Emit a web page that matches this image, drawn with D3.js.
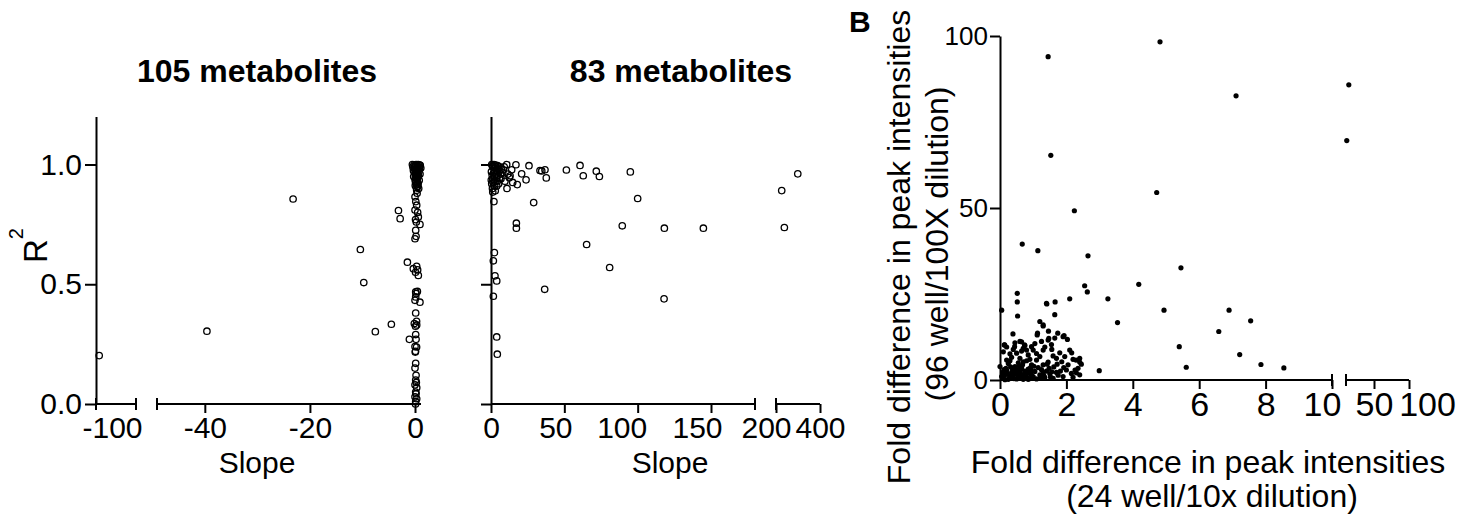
<!DOCTYPE html>
<html>
<head>
<meta charset="utf-8">
<script src="https://cdn.jsdelivr.net/npm/d3@7"></script>
<style>
  body { margin: 0; background: #fff; }
  svg { font-family: "Liberation Sans", Arial, Helvetica, sans-serif; background: #fff; }
  .axis path, .axis line, .cap { stroke: #000; stroke-width: 2; fill: none; }
  .axis text { fill: #000; }
</style>
</head>
<body>
<svg width="1465" height="518"></svg>
<script>
var svg = d3.select("svg");

// ---- data ----
// panel A, left: 105 metabolites, negative slopes
var negPoints = [
  [-101.6,0.202],[-39.6,0.304],[-23.2,0.856],[-10.4,0.645],[-9.75,0.507],[-7.55,0.302],
  [-4.5,0.333],[-3.15,0.808],[-2.83,0.774],[-1.45,0.592],[-1.07,0.27],
  [0.2,1.0],[0.6,1.0],[-0.2,0.998],[0.9,0.997],[0.4,0.995],[0.1,0.993],[0.75,0.99],[-0.1,0.99],
  [0.5,0.988],[0.3,0.985],[0.85,0.982],[0.0,0.98],[0.6,0.978],[0.2,0.975],[0.45,0.972],[-0.15,0.97],
  [0.7,0.968],[0.35,0.965],[0.1,0.962],[0.55,0.96],[0.25,0.957],[0.05,0.955],[0.65,0.952],[0.4,0.95],
  [0.15,0.947],[0.5,0.944],[0.3,0.94],[0.0,0.937],[0.8,0.934],[0.2,0.93],[0.45,0.927],[0.1,0.924],
  [0.6,0.92],[0.35,0.916],[0.05,0.912],[0.5,0.908],[0.25,0.904],[0.7,0.9],[1.0,0.996],[-0.5,1.0],
  [-0.4,0.99],[1.1,0.985],[-0.3,0.975],[0.95,0.96],[-0.25,0.95],
  [0.32,0.893],[0,0.865],[0.32,0.83],[0,0.81],[0.63,0.781],[0.1,0.77],[0.94,0.75],[0.13,0.725],
  [0,0.69],[0.2,0.70],[0.32,0.575],[-0.32,0.565],[0.5,0.56],[0.63,0.537],[0.1,0.55],[0.13,0.468],
  [0.2,0.461],[0.13,0.447],[0,0.433],[0.94,0.425],[0.13,0.38],[-0.13,0.336],[0.32,0.33],[0.1,0.325],
  [0.13,0.29],[0.2,0.27],[0,0.24],[0.3,0.238],[0.1,0.22],[0.05,0.217],[0.13,0.17],[0,0.15],
  [0.13,0.1],[0,0.08],[0.32,0.068],[0.13,0.05],[0.2,0.043],[0,0.03],[0.32,0.022],[0.13,0.01],[0.1,0.0],
  [0.4,0.88],[0.15,0.845],[0.5,0.8],[0.25,0.76],[0.45,0.47],[0.3,0.345],[0.2,0.12],[0.25,0.09]
];
// panel A, right: 83 metabolites, positive slopes
var posPoints = [
  [299,0.961],[226,0.891],[238,0.737],[144.8,0.734],[118.2,0.734],[118,0.439],[100,0.858],[95,0.969],
  [89.5,0.744],[80.9,0.57],[65.2,0.666],[73.9,0.95],[71.8,0.972],[62.9,0.953],[60.7,0.996],[51.4,0.977],
  [37.7,0.944],[36.8,0.978],[33.4,0.975],[34.6,0.973],[36.6,0.479],[29.1,0.841],[25.9,0.995],[23.9,0.936],
  [20.9,0.961],[17.9,0.916],[17.3,0.755],[17.3,0.734],[17,0.999],[14.8,0.925],[13,0.953],[14.1,0.978],
  [10.7,1.0],[10.9,0.9],[8.4,0.978],[6.8,0.941],[4.3,0.93],[3.9,0.91],[2,0.845],[2.3,0.632],[1.6,0.598],
  [2.7,0.535],[3.9,0.514],[1.6,0.45],[3.9,0.28],[4.3,0.208],
  [0.5,1.0],[1,0.995],[1.5,0.99],[2,1.0],[2.5,0.985],[3,0.998],[3.5,0.99],[4,0.975],[4.5,0.995],[5,0.985],
  [5.5,0.97],[6,0.99],[6.5,0.96],[7,0.98],[0.3,0.97],[0.8,0.955],[1.2,0.94],[1.8,0.965],[2.2,0.95],
  [2.8,0.93],[3.2,0.96],[3.8,0.945],[4.8,0.955],[5.8,0.94],[0.5,0.92],[1.5,0.925],[2.5,0.91],[0.2,0.935],
  [1.0,0.9],[8,0.965],[9,0.99],[11.5,0.96],[12.5,0.945],[9.5,0.93],[5.2,0.92],[2.9,0.89],[1.2,0.885]
];
// panel B: fold differences (24 well/10x vs 96 well/100X)
var foldPoints = [
  [4.82,98.3],[1.45,94.0],[7.11,82.6],[14,85.8],[11.1,69.6],[1.53,65.3],[4.72,54.5],[2.24,49.2],
  [0.67,39.5],[1.14,37.6],[2.65,36.1],[5.45,32.6],[4.18,27.8],[2.55,27.4],[2.63,25.6],[0.52,25.2],
  [0.52,22.7],[2.1,23.6],[3.25,23.6],[1.66,22.7],[1.41,22.1],[0.05,20.3],[4.94,20.3],[6.9,20.3],
  [0.53,18.6],[1.65,19.0],[3.54,16.7],[7.55,17.2],[6.59,14.1],[5.4,9.7],[7.22,7.4],[7.86,4.5],
  [8.55,3.5],[5.61,3.7],[2.99,2.7],[0.39,13.4],
  [1.2,17],[1.3,15.7],[1.46,14.2],[1.13,13.6],[1.74,13.6],[1.93,12.9],[2.03,11.8],[1.45,11.6],
  [0.13,10.2],[0.45,10.8],[0.65,11.1],[0.7,9.2],[0.8,8.7],[1.0,8.7],[0.1,8.2],[0.3,7.6],[1.1,7.7],
  [1.3,8.7],[1.56,8.9],[1.8,7.9],[2.1,8.7],[2.16,7.9],[2.4,6.3],[2.29,5.8],[1.7,6.3],[1.86,5.3],
  [1.1,5.8],[0.85,7.3],[0.6,6.3],[0.25,4.8],[0,3.9],[0.45,3.9],[0.7,5.3],[0.95,4.4],[1.3,4.4],
  [1.48,3.4],[1.56,2.4],[2.0,2.9],[2.26,2.9],[2.3,2.1],[1.3,2.0],[1.5,1.8],[1.0,1.0],[1.75,1.4],
  [0.1,0.5],[0.15,1.5],[0.2,2.8],[0.25,0.2],[0.3,1.2],[0.35,2.2],[0.4,0.8],[0.45,1.8],[0.5,3.0],
  [0.5,0.3],[0.55,1.3],[0.6,2.4],[0.6,0.6],[0.65,3.5],[0.7,1.6],[0.7,0.2],[0.75,2.6],[0.8,1.0],
  [0.85,3.2],[0.9,0.4],[0.9,2.0],[0.95,1.4],[0.05,1.0],[0.08,2.2],[0.18,3.4],[0.28,0.6],[0.38,3.1],
  [0.48,2.3],[0.58,4.1],[0.68,4.4],[0.78,0.7],[0.88,2.8],[1.05,2.5],[1.1,0.3],[1.2,1.5],[1.25,3.0],
  [1.35,0.8],[1.4,2.6],[1.6,0.5],[1.7,2.2],[1.9,1.0],[2.2,0.8],[2.4,1.5],[0.3,5.6],[0.55,5.0],
  [0.9,6.0],[1.2,6.8],[0.4,8.9],[0.2,9.6],[0.75,10.0],[1.55,10.3],[1.65,12.2],[1.4,22.3],[1.3,16.0],
  [1.12,13.1],[1.47,12.1],[1.9,12.6],[0.14,10.2],[0.44,9.7],[0.74,10.2],[0.6,11.2],
  [0.12,3.0],[0.22,1.8],[0.32,3.8],[0.42,0.4],[0.52,1.9],[0.62,3.0],[0.72,0.9],[0.82,2.2],[0.92,3.6],
  [0.15,0.1],[0.35,0.5],[0.55,0.8],[0.65,1.2],[0.75,1.9],[0.85,0.2],[0.95,2.6],[1.02,4.0],[1.15,3.6],
  [1.22,0.6],[1.32,1.3],[1.42,4.6],[1.52,0.9],[1.62,3.8],[1.72,4.6],[1.82,2.6],[1.92,3.6],[2.05,4.4],
  [2.15,1.9],[2.35,3.4],[2.45,4.6],[0.35,6.6],[0.5,7.8],[0.65,8.4],[0.95,9.7],[1.05,10.6],[1.25,11.2],
  [1.35,9.6],[1.6,7.0],[1.95,6.8],[2.2,6.0],[0.2,5.8],[0.8,5.6],[1.45,5.2],[2.4,5.2]
];

var r2Ticks = [0, 0.5, 1.0];
var negTicks1 = [-100], negTicks2 = [-40, -20, 0];
var posTicks1 = [0, 50, 100, 150], posTicks2 = [200, 400];
var foldXTicks1 = [0, 2, 4, 6, 8, 10], foldXTicks2 = [50, 100];
var foldYTicks = [0, 50, 100];

// ---- scales ----
var yR2 = d3.scaleLinear().domain([0, 1.2]).range([404, 116.6]);

var negX1 = d3.scaleLinear().domain([-102, -97]).range([96, 136]);
var negX2 = d3.scaleLinear().domain([-49.1, 1.14]).range([157, 421]);
var posX1 = d3.scaleLinear().domain([0, 180]).range([491, 755]);
var posX2 = d3.scaleLinear().domain([200, 400]).range([776, 820]);

var foldX1 = d3.scaleLinear().domain([0, 10]).range([1000, 1332]);
var foldX2 = d3.scaleLinear().domain([10, 100]).range([1346, 1409]);
var foldY = d3.scaleLinear().domain([0, 100]).range([380, 36]);

function pick(s1, s2) {
    return function (v) { return v <= s1.domain()[1] ? s1(v) : s2(v); };
}
var negX = pick(negX1, negX2),
    posX = pick(posX1, posX2),
    foldX = pick(foldX1, foldX2);

// ---- helpers ----
function xSegment(scale, ticks, y0, size, pad, font, shifts) {
    var g = svg.append("g")
        .attr("class", "axis")
        .attr("transform", "translate(0," + y0 + ")")
        .call(d3.axisBottom(scale)
            .tickValues(ticks)
            .tickSize(size)
            .tickSizeOuter(0)
            .tickPadding(pad)
            .tickFormat(function (d) { return String(d); }));
    g.select(".domain").attr("d", "M" + scale.range()[0] + ",0H" + scale.range()[1]);
    g.selectAll("text")
        .attr("font-size", font)
        .attr("dx", function (d) { return (shifts && shifts[d]) || 0; });
    return g;
}
function cap(x, y0) {
    svg.append("line").attr("class", "cap")
        .attr("x1", x).attr("x2", x)
        .attr("y1", y0 - 6).attr("y2", y0 + 6);
}

// ---- panel A, left ----
svg.append("g")
    .attr("class", "axis")
    .attr("transform", "translate(96,0)")
    .call(d3.axisLeft(yR2).tickValues(r2Ticks).tickSize(11).tickSizeOuter(0).tickPadding(3)
        .tickFormat(d3.format(".1f")))
    .selectAll("text").attr("font-size", 30);

xSegment(negX1, negTicks1, 404, 0, 13, 30);
xSegment(negX2, negTicks2, 404, 9, 4, 30);
cap(negX1.range()[0], 404);
cap(negX1.range()[1], 404);
cap(negX2.range()[0], 404);

svg.append("g")
    .selectAll("circle")
    .data(negPoints)
    .enter().append("circle")
    .attr("cx", function (d) { return negX(d[0]); })
    .attr("cy", function (d) { return yR2(d[1]); })
    .attr("r", 3.2)
    .attr("fill", "none")
    .attr("stroke", "#000")
    .attr("stroke-width", 1.3);

svg.append("text")
    .attr("x", 257).attr("y", 82)
    .attr("text-anchor", "middle")
    .attr("font-size", 32).attr("font-weight", "bold")
    .text("105 metabolites");

svg.append("text")
    .attr("x", 257).attr("y", 473)
    .attr("text-anchor", "middle")
    .attr("font-size", 30)
    .text("Slope");

var r2 = svg.append("text")
    .attr("transform", "translate(47,263) rotate(-90)")
    .attr("font-size", 33);
r2.append("tspan").text("R");
r2.append("tspan").attr("font-size", 20).attr("dy", -24).text("2");

// ---- panel A, right ----
svg.append("g")
    .attr("class", "axis")
    .attr("transform", "translate(491,0)")
    .call(d3.axisLeft(yR2).tickValues(r2Ticks).tickSize(10).tickSizeOuter(0).tickFormat(""));

xSegment(posX1, posTicks1, 404, 9, 4, 30, {50: -9, 100: -16, 150: -14});
xSegment(posX2, posTicks2, 404, 9, 4, 30, {200: -10, 400: 0});
cap(posX1.range()[1], 404);
cap(posX2.range()[0], 404);

svg.append("g")
    .selectAll("circle")
    .data(posPoints)
    .enter().append("circle")
    .attr("cx", function (d) { return posX(d[0]); })
    .attr("cy", function (d) { return yR2(d[1]); })
    .attr("r", 3.2)
    .attr("fill", "none")
    .attr("stroke", "#000")
    .attr("stroke-width", 1.3);

svg.append("text")
    .attr("x", 681).attr("y", 82)
    .attr("text-anchor", "middle")
    .attr("font-size", 32).attr("font-weight", "bold")
    .text("83 metabolites");

svg.append("text")
    .attr("x", 670).attr("y", 473)
    .attr("text-anchor", "middle")
    .attr("font-size", 30)
    .text("Slope");

// ---- panel B ----
svg.append("g")
    .attr("class", "axis")
    .attr("transform", "translate(1000,0)")
    .call(d3.axisLeft(foldY).tickValues(foldYTicks).tickSize(10).tickSizeOuter(0).tickPadding(2))
    .selectAll("text").attr("font-size", 26);

xSegment(foldX1, foldXTicks1, 380, 9, 3, 34, {10: -10});
xSegment(foldX2, foldXTicks2, 380, 9, 3, 34, {100: 18});
cap(foldX1.range()[1], 380);
cap(foldX2.range()[0], 380);

svg.append("g")
    .selectAll("circle")
    .data(foldPoints)
    .enter().append("circle")
    .attr("cx", function (d) { return foldX(d[0]); })
    .attr("cy", function (d) { return foldY(d[1]); })
    .attr("r", 2.6)
    .attr("fill", "#000");

svg.append("text")
    .attr("x", 849).attr("y", 32)
    .attr("font-size", 30).attr("font-weight", "bold")
    .text("B");

svg.append("text")
    .attr("x", 1208).attr("y", 473)
    .attr("text-anchor", "middle")
    .attr("font-size", 32)
    .text("Fold difference in peak intensities");
svg.append("text")
    .attr("x", 1212).attr("y", 507)
    .attr("text-anchor", "middle")
    .attr("font-size", 32)
    .text("(24 well/10x dilution)");

svg.append("text")
    .attr("transform", "translate(910,247) rotate(-90)")
    .attr("text-anchor", "middle")
    .attr("font-size", 32)
    .text("Fold difference in peak intensities");
svg.append("text")
    .attr("transform", "translate(948,244) rotate(-90)")
    .attr("text-anchor", "middle")
    .attr("font-size", 32)
    .text("(96 well/100X dilution)");
</script>
</body>
</html>
